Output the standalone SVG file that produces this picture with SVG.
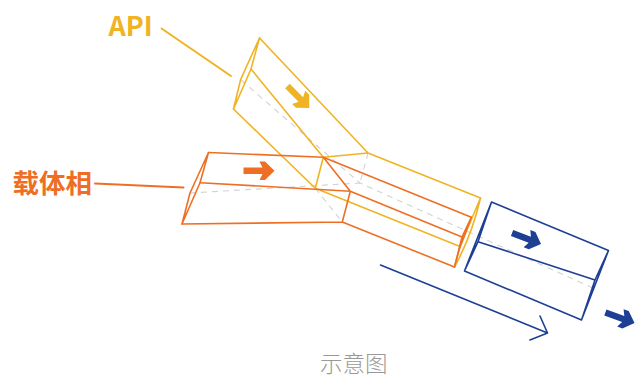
<svg xmlns="http://www.w3.org/2000/svg" width="635" height="378" viewBox="0 0 635 378">
<style>
.l{fill:none;stroke-width:1.6;stroke-linejoin:round;stroke-linecap:round}
.y{stroke:#f0b323}.o{stroke:#ee6f23}.b{stroke:#1d3f94}
.d{fill:none;stroke:#d2d2d2;stroke-width:1.1;stroke-dasharray:6 5}
.t{font-family:"Noto Sans CJK SC","Noto Sans",sans-serif;font-weight:700}
</style>
<defs>
<path id="fat-arrow" d="M-31 -3.200L-12 -3.200L-15 -9.300L-9.500 -9.300L0 0L-9.500 9.300L-15 9.300L-12 3.200L-31 3.200Z"/>
</defs>
<rect width="635" height="378" fill="#fff"/>
<g id="guides">
<path class="d" d="M241 80L360 183L593 288M190 193L360 183M368 153L360 183M315.3 188.3L342.3 222"/>
</g>
<g id="api-channel">
<path class="l y" d="M259.5 38L368 153L480.5 198M233.5 109L315.3 188.3L460 246.5M251 69L323.3 157.3L368 153M315.3 188.3L323.3 157.3"/>
<path class="l y" d="M259.5 38L251 69L233.5 109M259.5 38L240.7 79.300L233.500 109M480.5 198L460 246.5L454.5 267M480.5 198Q472 235 454.5 267"/>
</g>
<g id="carrier-channel">
<path class="l o" d="M208.5 152.5L323.3 157.3L471.3 217.3M200 182.7L350.3 191.3L462 237M182 224L342.3 222L454.5 267M323.3 157.3L350.3 191.3L342.3 222"/>
<path class="l o" d="M208.5 152.5L200 182.7L182 224M208.5 152.5L190 193L182 224M471.3 217.3L462 237L454.5 267M471.3 217.3L459 250L454.5 267"/>
</g>
<g id="outlet">
<path class="l b" d="M491.5 202L608.5 250.5M478 241.7L595 280M464.5 271L581.5 320M491.500 202L478 241.7L464.5 271M491.5 202L464.5 271M608.5 250.5L595 280L581.5 320M608.5 250.5L581.5 320"/>
</g>
<g id="flow-arrows">
<use href="#fat-arrow" fill="#f0b323" transform="translate(309.300 108) rotate(45)"/>
<use href="#fat-arrow" fill="#ee6f23" transform="translate(274.500 170.700)"/>
<use href="#fat-arrow" fill="#1d3f94" transform="translate(541 244) rotate(21)"/>
<use href="#fat-arrow" fill="#1d3f94" transform="translate(634.500 323) rotate(20)"/>
</g>
<g id="direction-arrow">
<path class="l b" d="M380.5 265L547.5 333M540 316L547.5 333L530 340"/>
</g>
<g id="label-api">
<path class="l y" style="stroke-width:2" d="M161.5 28.500L231 76"/>
<text class="t" x="108.500" y="36" font-size="27" fill="#f0b323">API</text>
</g>
<g id="label-carrier">
<path class="l o" style="stroke-width:2" d="M95 183.500L183.500 187.500"/>
<text class="t" x="12.500" y="193" font-size="26.500" fill="#ee6f23">载体相</text>
</g>
<g id="caption">
<text x="320" y="371.500" font-family="'Noto Sans CJK SC',sans-serif" font-size="22.500" font-weight="300" fill="#999">示意图</text>
</g>
</svg>
